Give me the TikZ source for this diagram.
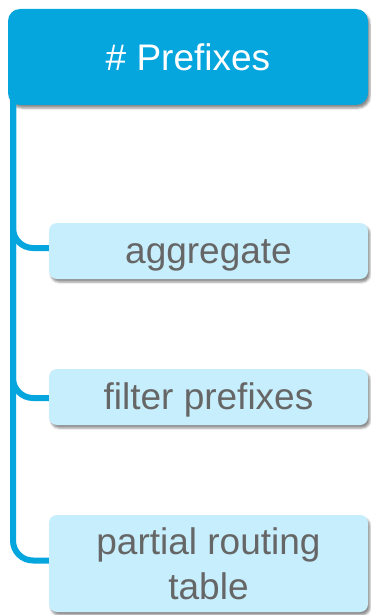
\documentclass[tikz,border=0pt]{standalone}
\usepackage{fontspec}
\setmainfont{Liberation Sans}
\usetikzlibrary{shadows.blur}

\definecolor{prefblue}{HTML}{05A5DE}
\definecolor{prefpale}{HTML}{C6EEFC}
\definecolor{preftext}{HTML}{666666}

\tikzset{
    rootbox/.style={fill=prefblue, rounded corners=12pt, text=white,
        minimum width=360pt, minimum height=96pt,
        blur shadow={shadow xshift=2pt, shadow yshift=-3pt, shadow opacity=45}},
    leafbox/.style={fill=prefpale, rounded corners=8pt, text=preftext,
        minimum width=319pt, align=center,
        blur shadow={shadow xshift=2pt, shadow yshift=-3pt, shadow opacity=45}},
    oneline/.style={minimum height=56pt, text height=24pt, text depth=0pt},
    branch/.style={draw=prefblue, line width=6pt, rounded corners=20pt},
}

\begin{document}
\begin{tikzpicture}[x=1pt, y=-1pt, font=\fontsize{37}{45}\selectfont]
            \useasboundingbox (0,0) rectangle (370,615);
            % Wurzel:
            \node[rootbox] (prefixes) at (188,57) {\# Prefixes};
            \coordinate (trunk) at (13,95);
            % Blaetter:
            \node[leafbox, oneline] (aggregate) at (208.5,251) {aggregate};
            \node[leafbox, oneline] (filter) at (208.5,397) {filter prefixes};
            \node[leafbox, minimum height=97pt] (partial) at (208.5,563.5)
                {partial routing\\table};
            % Verbindungen:
            \draw[branch] (trunk) |- ([yshift=3pt]aggregate.west);
            \draw[branch] (trunk) |- ([yshift=-1pt]filter.west);
            \draw[branch] (trunk) |- ([yshift=3pt]partial.west);
\end{tikzpicture}
\end{document}
